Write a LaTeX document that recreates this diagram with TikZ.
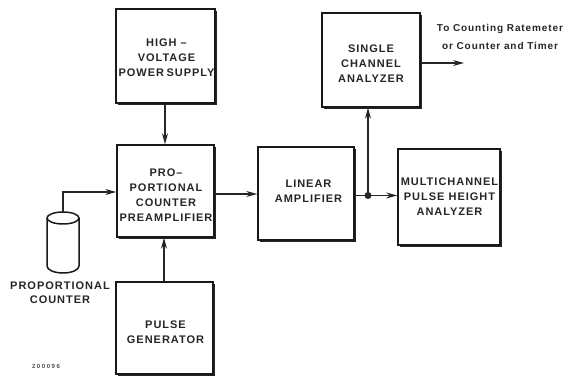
\documentclass[tikz,border=0pt]{standalone}
\usepackage{fontspec}
\setmainfont{Liberation Sans}
\usetikzlibrary{arrows.meta}
\newfontfamily\wide[LetterSpace=9]{Liberation Sans}
\newfontfamily\wider[LetterSpace=26]{Liberation Sans}
\tikzset{
  x=1pt,y=-1pt,
  blockbox/.style={draw=black!90,line width=1.5pt,inner sep=0pt,fill=white},
  blockshadow/.style={fill=black!85},
  wire/.style={draw=black!85,line width=1.2pt,-{Stealth[length=11pt,width=6pt]}},
  lab/.style={align=center,inner sep=0pt,text=black!85,font=\fontsize{11}{15}\wide\bfseries},
  smalllab/.style={align=center,inner sep=0pt,text=black!85,font=\fontsize{10}{17.5}\wide\bfseries},
}
\newcommand{\blockat}[8]{% name, x1,y1,x2,y2,text,text y offset,text x offset
  \fill[blockshadow] (#2+2,#3+2) rectangle (#4+2,#5+2);
  \node[blockbox,minimum width=#4pt-#2pt,minimum height=#5pt-#3pt] (#1) at ({(#2+#4)/2},{(#3+#5)/2}) {};
  \node[lab] (#1t) at ({(#2+#4)/2+#8},{(#3+#5)/2+#7}) {#6};
}
\begin{document}
\begin{tikzpicture}
\useasboundingbox (0,0) rectangle (568,379);
\fill[white] (0,0) rectangle (568,379);
\blockat{hv}{116}{9}{215}{103}{HIGH –\\VOLTAGE\\POWER\kern2.5pt SUPPLY}{2}{1}
\blockat{pre}{117}{145}{214}{237}{PRO–\\PORTIONAL\\COUNTER\\PREAMPLIFIER}{4.5}{0.5}
\blockat{pg}{116}{282}{213}{374}{PULSE\\GENERATOR}{4.5}{1}
\blockat{lin}{258}{147}{354}{240}{LINEAR\\AMPLIFIER}{-2.5}{2.5}
\blockat{sca}{322}{13}{420}{107}{SINGLE\\CHANNEL\\ANALYZER}{4}{0}
\blockat{mca}{398}{149}{500}{245}{MULTICHANNEL\\PULSE HEIGHT\\ANALYZER}{0}{0.5}
% cylinder
\draw[line width=1.5pt,draw=black!90,fill=white] (47,218) -- (47,266) arc[start angle=180,end angle=0,x radius=16,y radius=7] -- (79,218);
\draw[line width=1.5pt,draw=black!90] (63,218) ellipse[x radius=16,y radius=6];
\coordinate (cyl) at (63,213);
\coordinate (bend) at (63,192);
\draw[wire] (cyl) -- (bend) -- (pre.west |- bend);
\coordinate (a) at (165,0);
\coordinate (b) at (164,0);
\draw[wire] (hv.south -| a) -- (pre.north -| a);
\draw[wire] (pg.north -| b) -- (pre.south -| b);
\draw[wire] (pre.east |- 0,194) -- (lin.west |- 0,194);
\coordinate (j) at (368,195.5);
\draw[wire] (lin.east |- j) -- (mca.west |- j);
\draw[wire] (j) -- (j |- sca.south);
\fill[black!85] (j) circle (3.5);
\coordinate (out) at (464,63);
\draw[wire] (sca.east |- out) -- (out);
\node[lab,font=\fontsize{11}{13.5}\wide\bfseries] (l1) at (60,292.5) {PROPORTIONAL\\COUNTER};
\node[smalllab] (l2) at (500,37) {To Counting Ratemeter\\or Counter and Timer};
\node[inner sep=0pt,font=\fontsize{6}{6}\wider\bfseries,text=black!70] (l3) at (46,366) {200096};
\end{tikzpicture}
\end{document}
